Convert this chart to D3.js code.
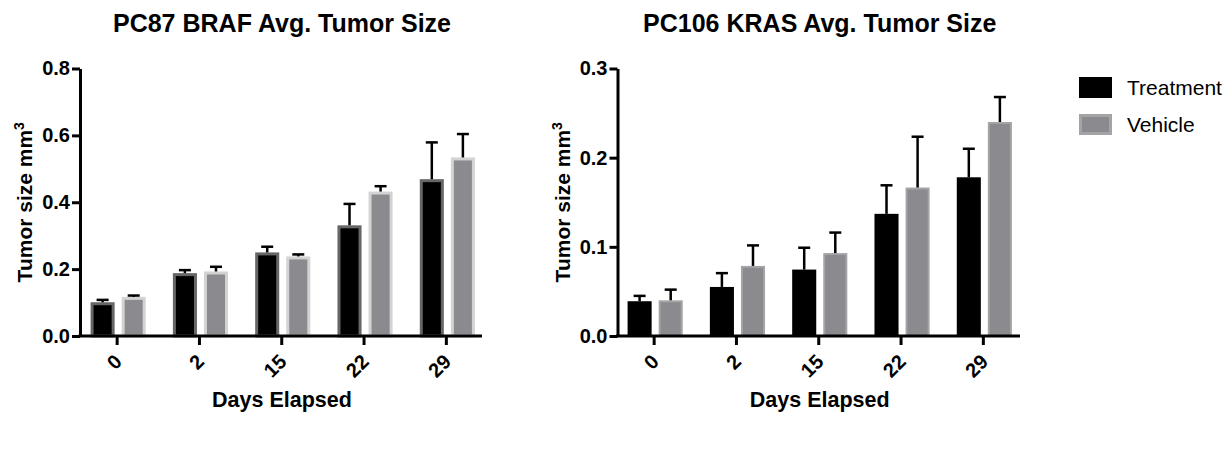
<!DOCTYPE html>
<html>
<head>
<meta charset="utf-8">
<script src="https://cdn.jsdelivr.net/npm/d3@7"></script>
<style>
  body { margin: 0; background: #fff; }
  svg text { font-family: "Liberation Sans", Arial, Helvetica, sans-serif; }
</style>
</head>
<body>
<div id="chart"></div>
<script>
// --- data ---
const days = ["0", "2", "15", "22", "29"];
const seriesNames = ["Treatment", "Vehicle"];

const brafTreatment = [0.101, 0.188, 0.250, 0.331, 0.469];
const brafTreatmentErr = [0.007, 0.009, 0.017, 0.064, 0.110];
const brafVehicle = [0.117, 0.193, 0.238, 0.432, 0.534];
const brafVehicleErr = [0.004, 0.014, 0.006, 0.016, 0.070];

const krasTreatment = [0.039, 0.055, 0.0745, 0.137, 0.178];
const krasTreatmentErr = [0.006, 0.0155, 0.0245, 0.032, 0.032];
const krasVehicle = [0.040, 0.0786, 0.093, 0.1665, 0.240];
const krasVehicleErr = [0.012, 0.023, 0.023, 0.057, 0.028];

const brafTicks = [0, 0.2, 0.4, 0.6, 0.8];
const krasTicks = [0, 0.1, 0.2, 0.3];

const svg = d3.select("#chart").append("svg")
    .attr("width", 1232)
    .attr("height", 449);

// 1つのパネルを描画
function drawPanel(opt) {
    const g = svg.append("g");
    const yTop = 68.5, yBottom = 336;

    const x = d3.scaleBand()
        .domain(days)
        .range([opt.x0, opt.x0 + 5 * 82.3])
        .paddingInner(0.33)
        .paddingOuter(0.165);
    const xInner = d3.scaleBand()
        .domain(seriesNames)
        .range([0, x.bandwidth()])
        .paddingInner(0.226);
    const y = d3.scaleLinear()
        .domain([0, opt.yMax])
        .range([yBottom, yTop]);

    const rows = days.map((d, i) => ({
        day: d,
        values: [
            { key: "Treatment", v: opt.treat[i], e: opt.treatErr[i] },
            { key: "Vehicle", v: opt.veh[i], e: opt.vehErr[i] }
        ]
    }));

    const groups = g.selectAll(".grp")
        .data(rows)
        .enter().append("g")
        .attr("transform", d => `translate(${x(d.day) + 1},0)`);

    // bars (stroke kept inside the bar outline)
    groups.selectAll("rect")
        .data(d => d.values)
        .enter().append("rect")
        .attr("x", d => xInner(d.key) + opt.sw[d.key] / 2)
        .attr("y", d => y(d.v) + opt.sw[d.key] / 2)
        .attr("width", d => xInner.bandwidth() - opt.sw[d.key])
        .attr("height", d => yBottom - y(d.v) - opt.sw[d.key] / 2)
        .attr("fill", d => opt.fill[d.key])
        .attr("stroke", d => opt.stroke[d.key])
        .attr("stroke-width", d => opt.sw[d.key]);

    // error bars (upper only)
    const eb = groups.selectAll(".eb")
        .data(d => d.values)
        .enter().append("g");
    eb.append("line")
        .attr("x1", d => xInner(d.key) + xInner.bandwidth() / 2)
        .attr("x2", d => xInner(d.key) + xInner.bandwidth() / 2)
        .attr("y1", d => y(d.v))
        .attr("y2", d => y(d.v + d.e))
        .attr("stroke", "#000")
        .attr("stroke-width", 2.5);
    eb.append("line")
        .attr("x1", d => xInner(d.key) + xInner.bandwidth() / 2 - 6)
        .attr("x2", d => xInner(d.key) + xInner.bandwidth() / 2 + 6)
        .attr("y1", d => y(d.v + d.e))
        .attr("y2", d => y(d.v + d.e))
        .attr("stroke", "#000")
        .attr("stroke-width", 2.5);

    // y axis
    const yAxis = g.append("g")
        .attr("transform", `translate(${opt.axisX},0)`)
        .call(d3.axisLeft(y).tickValues(opt.ticks).tickFormat(d3.format(".1f"))
            .tickSize(8).tickSizeOuter(0).tickPadding(2));
    yAxis.select(".domain").attr("stroke-width", 3);
    yAxis.selectAll(".tick line").attr("stroke-width", 3);
    yAxis.selectAll(".tick text")
        .attr("font-size", 20).attr("font-weight", "bold")
        .attr("font-family", "Liberation Sans, Arial, sans-serif");

    // x axis
    const xAxis = g.append("g")
        .attr("transform", `translate(0,${yBottom})`)
        .call(d3.axisBottom(x).tickSize(9).tickSizeOuter(0));
    xAxis.select(".domain").remove();
    xAxis.append("line")
        .attr("x1", opt.axisX - 1.5).attr("x2", opt.xEnd)
        .attr("stroke", "#000").attr("stroke-width", 3);
    xAxis.selectAll(".tick line").attr("stroke-width", 3);
    xAxis.selectAll(".tick text")
        .attr("font-size", 20).attr("font-weight", "bold")
        .attr("font-family", "Liberation Sans, Arial, sans-serif")
        .attr("text-anchor", "end")
        .attr("dy", null)
        .attr("y", null)
        .attr("transform", "translate(6,27) rotate(-45)");

    const cx = (opt.axisX + opt.xEnd) / 2;
    g.append("text")
        .attr("x", cx + 1).attr("y", 32)
        .attr("text-anchor", "middle")
        .attr("font-size", 25).attr("font-weight", "bold")
        .text(opt.title);
    g.append("text")
        .attr("x", cx + 1).attr("y", 407)
        .attr("text-anchor", "middle")
        .attr("font-size", 21.5).attr("font-weight", "bold")
        .text("Days Elapsed");
    const yt = g.append("text")
        .attr("transform", `translate(${opt.axisX - 48},${(yTop + yBottom) / 2}) rotate(-90)`)
        .attr("text-anchor", "middle")
        .attr("font-size", 21).attr("font-weight", "bold");
    yt.append("tspan").text("Tumor size mm");
    yt.append("tspan").attr("font-size", 14).attr("dy", -8).text("3");
}

drawPanel({
    title: "PC87 BRAF Avg. Tumor Size",
    x0: 76, axisX: 80, xEnd: 482, yMax: 0.8, ticks: brafTicks,
    treat: brafTreatment, treatErr: brafTreatmentErr,
    veh: brafVehicle, vehErr: brafVehicleErr,
    fill: { Treatment: "#000", Vehicle: "#8b8a8f" },
    stroke: { Treatment: "#666666", Vehicle: "#d3d3d3" },
    sw: { Treatment: 3, Vehicle: 3 }
});

drawPanel({
    title: "PC106 KRAS Avg. Tumor Size",
    x0: 613, axisX: 617.5, xEnd: 1020, yMax: 0.3, ticks: krasTicks,
    treat: krasTreatment, treatErr: krasTreatmentErr,
    veh: krasVehicle, vehErr: krasVehicleErr,
    fill: { Treatment: "#000", Vehicle: "#8b8a8f" },
    stroke: { Treatment: "#000", Vehicle: "#a4a4a7" },
    sw: { Treatment: 0, Vehicle: 2 }
});

// legend
const legend = svg.append("g").attr("transform", "translate(1079,77)");
const legendFill = { Treatment: "#000", Vehicle: "#8b8a8f" };
const legendStroke = { Treatment: "#000", Vehicle: "#a4a4a7" };
seriesNames.forEach((name, i) => {
    const row = legend.append("g").attr("transform", `translate(0,${i * 37})`);
    row.append("rect")
        .attr("x", 1.5).attr("y", 1.5)
        .attr("width", 30).attr("height", 18)
        .attr("fill", legendFill[name])
        .attr("stroke", legendStroke[name])
        .attr("stroke-width", 3);
    row.append("text")
        .attr("x", 48).attr("y", 18)
        .attr("font-size", 21)
        .text(name);
});
</script>
</body>
</html>
